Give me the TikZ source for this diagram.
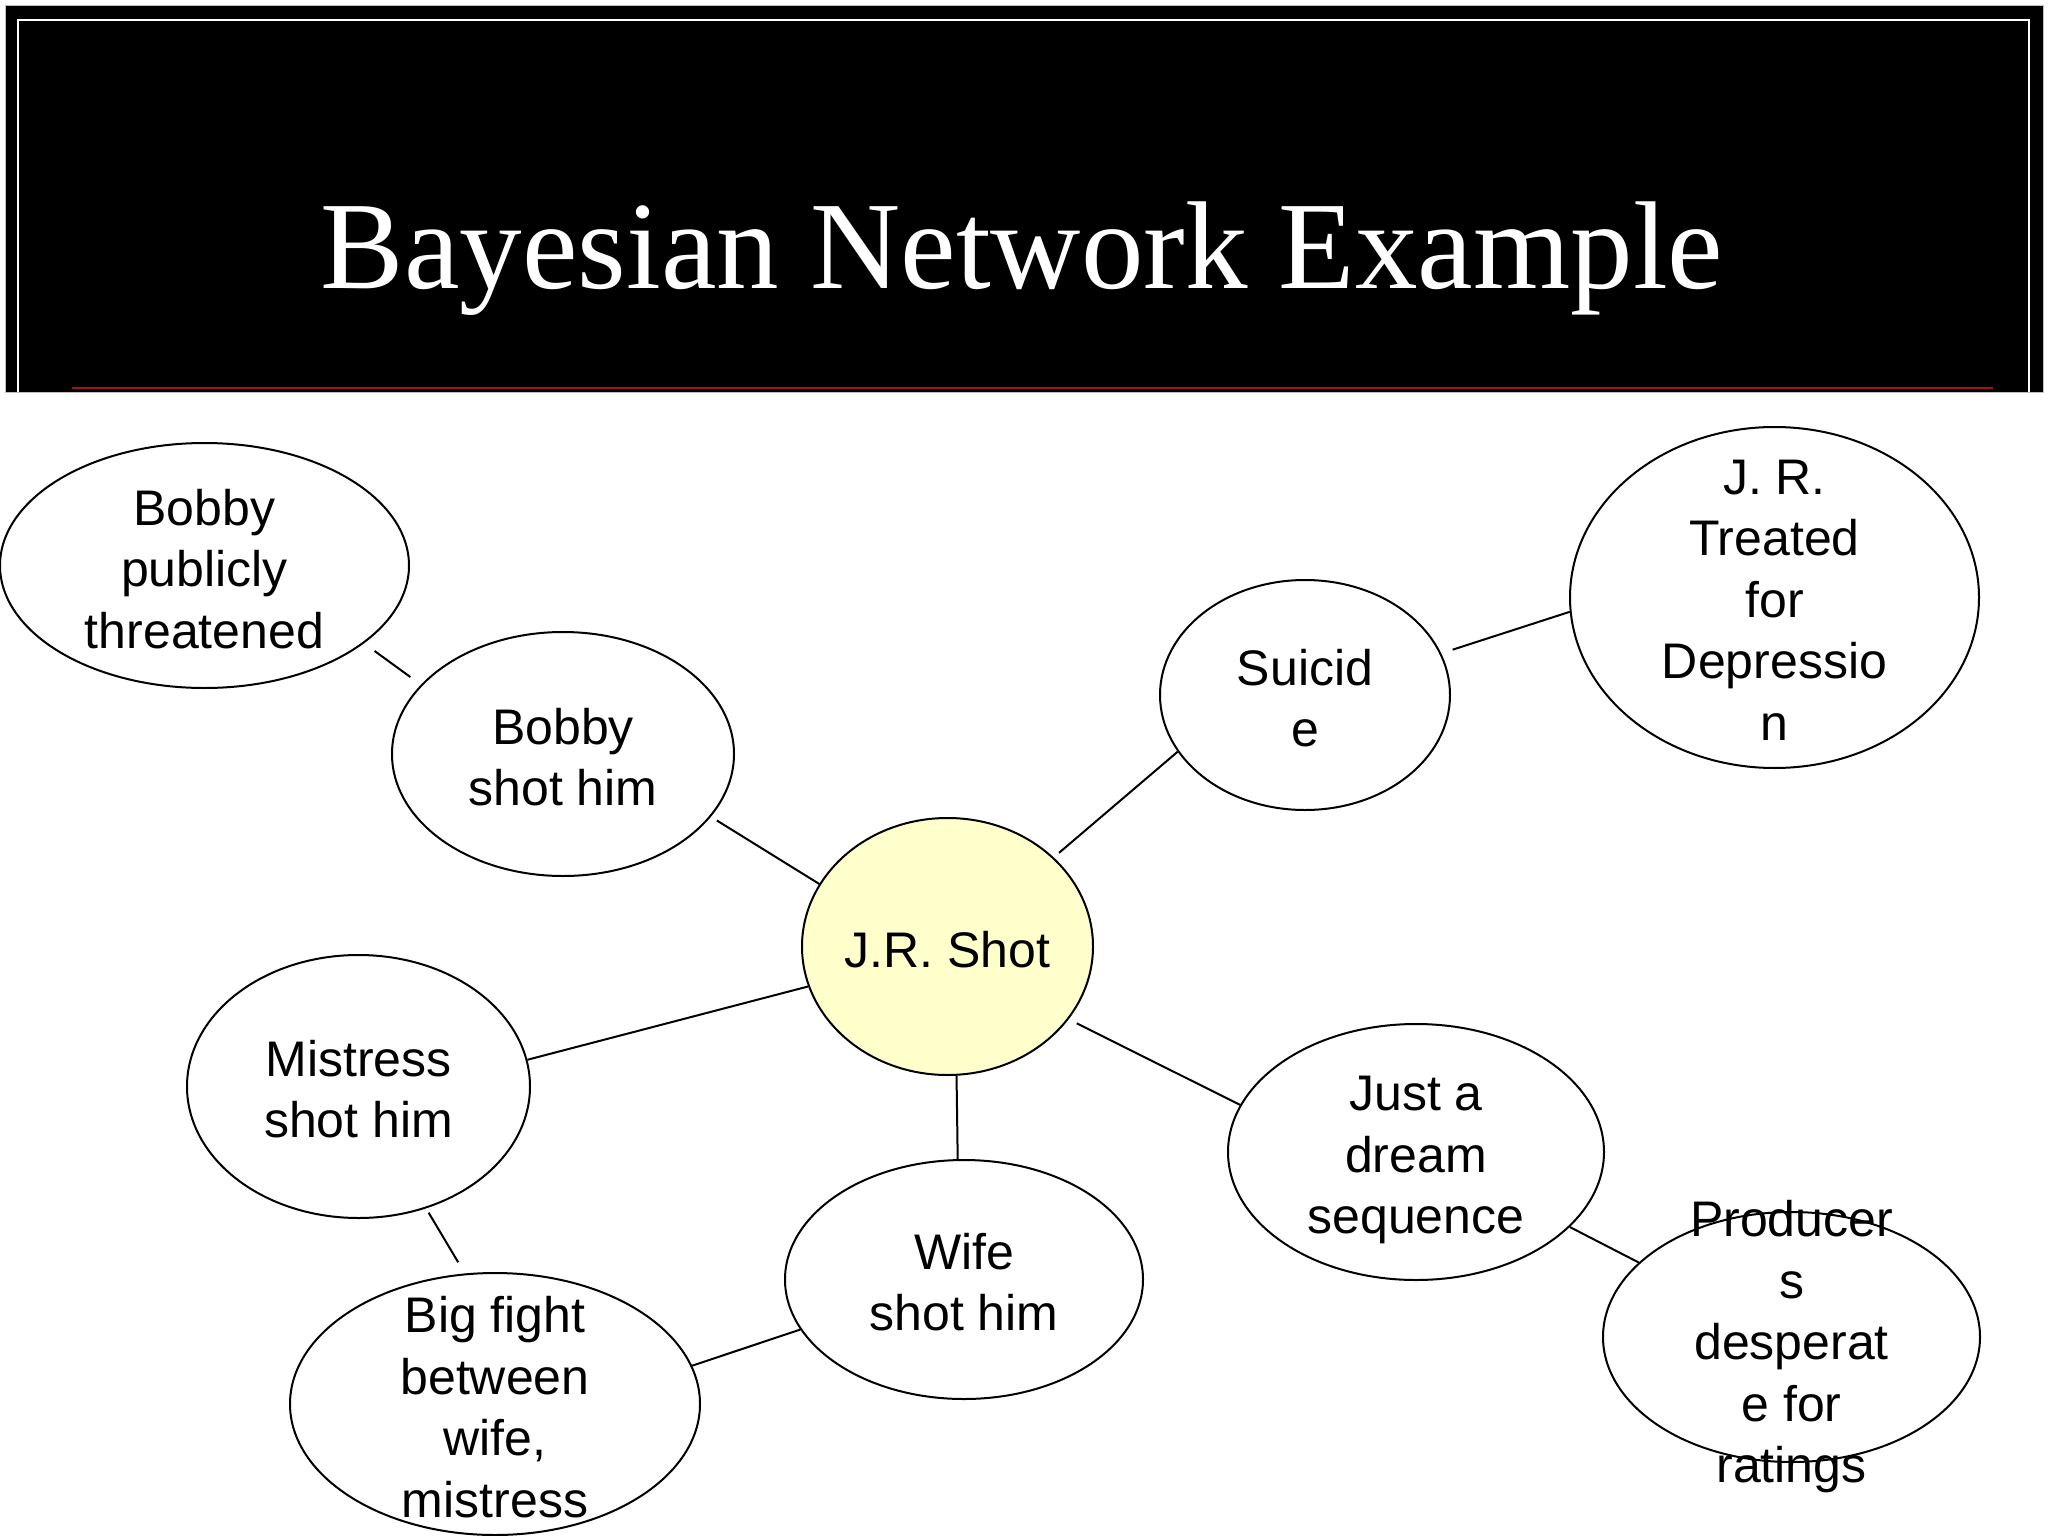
\documentclass[tikz,border=0pt]{standalone}
\usepackage{fontspec}
\setmainfont{Liberation Sans}
\newfontfamily\titlefont{Liberation Serif}
\usetikzlibrary{shapes.geometric}
\definecolor{jrfill}{RGB}{255,255,204}
\definecolor{redline}{RGB}{160,20,20}
\tikzset{
  bub/.style={ellipse, draw=black, line width=2pt, fill=white, inner sep=0pt},
  btxt/.style={align=center, inner sep=0pt, font=\fontsize{50}{61.5}\selectfont, text=black},
  conn/.style={draw=black, line width=2pt}
}
\begin{document}
\begin{tikzpicture}[x=1pt,y=-1pt]
\useasboundingbox (0,0) rectangle (2048,1536);
\fill[white] (0,0) rectangle (2048,1536);
% header
\node[rectangle, fill=black, draw=black!25, line width=1pt, minimum width=2038pt, minimum height=387pt, inner sep=0pt, anchor=north west] (hdr) at (5,5) {};
\draw[white, line width=1.2pt] (18,392) -- (18,20) -- (2029,20) -- (2029,392);
\draw[redline, line width=2.5pt] (72,388) -- (1993,388);
\node[anchor=base, text=white, inner sep=0pt, font=\titlefont\fontsize{125}{132}\selectfont] (title) at (1022,288) {Bayesian Network Example};
% ellipses
\node[bub, minimum width=409pt, minimum height=245pt] (T) at (204.5,565.5) {};
\node[bub, minimum width=342pt, minimum height=244pt] (BS) at (563,754) {};
\node[bub, fill=jrfill, minimum width=291pt, minimum height=257pt] (JR) at (947.5,946.5) {};
\node[bub, minimum width=290pt, minimum height=230pt] (Su) at (1305,695) {};
\node[bub, minimum width=409pt, minimum height=341pt] (Dep) at (1774.5,597.5) {};
\node[bub, minimum width=343pt, minimum height=263pt] (Mi) at (358.5,1086.5) {};
\node[bub, minimum width=358pt, minimum height=239pt] (Wi) at (964,1279.5) {};
\node[bub, minimum width=376pt, minimum height=256pt] (Dr) at (1416,1152) {};
\node[bub, minimum width=377pt, minimum height=250pt] (Pr) at (1791.5,1337) {};
\node[bub, minimum width=410pt, minimum height=262pt] (BF) at (495,1404) {};
% texts
\node[btxt] (tT) at (204.5,569) {Bobby\\publicly\\threatened};
\node[btxt] (tBS) at (563,757) {Bobby\\shot him};
\node[btxt] (tJR) at (947.5,950) {J.R. Shot};
\node[btxt] (tSu) at (1305,698) {Suicid\\e};
\node[btxt] (tDep) at (1774.5,600) {J. R.\\Treated\\for\\Depressio\\n};
\node[btxt] (tMi) at (358.5,1089) {Mistress\\shot him};
\node[btxt] (tWi) at (964,1282) {Wife\\shot him};
\node[btxt] (tDr) at (1416,1160) {Just a\\dream\\sequence};
\node[btxt] (tPr) at (1791.5,1347) {Producer\\s\\desperat\\e for\\ratings};
\node[btxt] (tBF) at (495,1407) {Big fight\\between\\wife,\\mistress};
% connectors
\draw[conn, shorten <=13pt, shorten >=13pt] (T.-26) -- (BS.154.6);
\draw[conn, shorten <=7pt] (BS.-23) -- (JR.154.8);
\draw[conn, shorten <=7pt] (JR.40.3) -- (Su.204.4);
\draw[conn, shorten <=12pt] (Su.17.8) -- (Dep.184.8);
\draw[conn] (JR.196.6) -- (Mi.9.5);
\draw[conn] (JR.-86.2) -- (Wi.93.7);
\draw[conn, shorten <=9pt] (JR.-31.7) -- (Dr.165.9);
\draw[conn, shorten <=5pt, shorten >=13pt] (Mi.-61.1) -- (BF.103.5);
\draw[conn] (BF.11.4) -- (Wi.197.7);
\draw[conn] (Dr.-26.4) -- (Pr.154);
\end{tikzpicture}
\end{document}
